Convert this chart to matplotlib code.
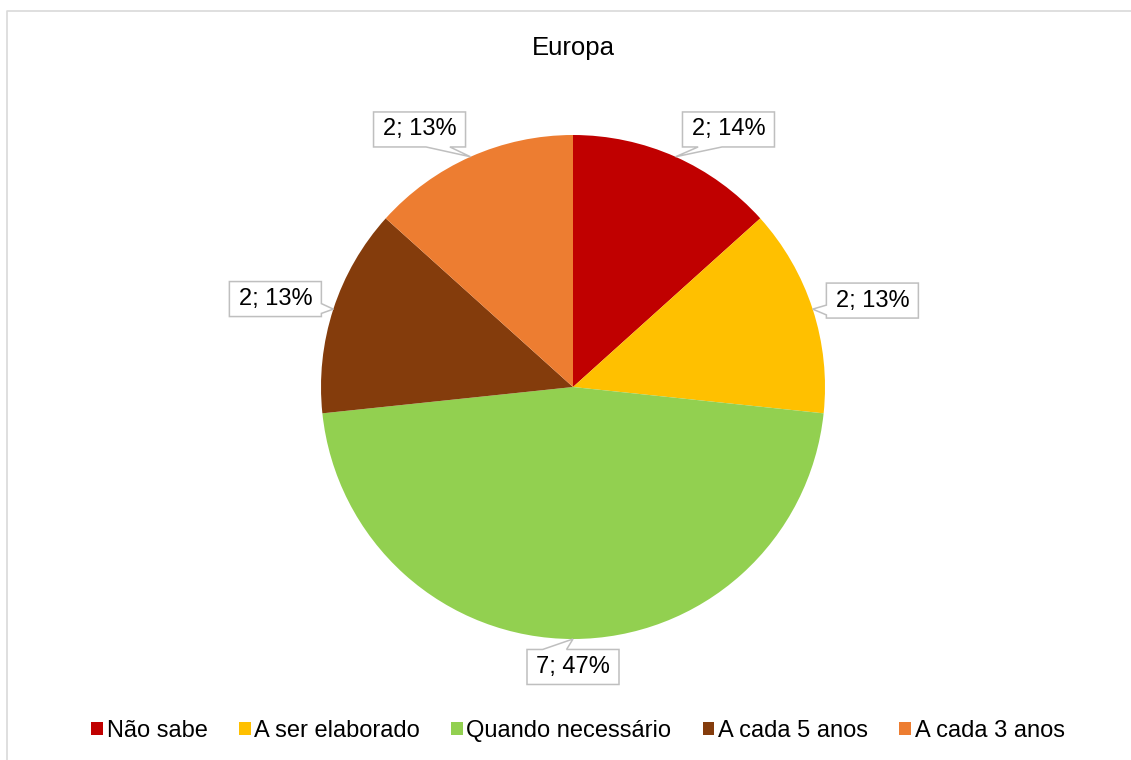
#!/usr/bin/env python3
"""Pie chart: Europa - frequency of plan review."""
import matplotlib
matplotlib.use("Agg")
import numpy as np
import matplotlib.pyplot as plt
from matplotlib.patches import Polygon, Patch

OUT_PNG = "out.png"

CATEGORIES = ["Não sabe", "A ser elaborado", "Quando necessário", "A cada 5 anos", "A cada 3 anos"]
COUNTS = [2, 2, 7, 2, 2]
PERCENT_LABELS = ["14%", "13%", "47%", "13%", "13%"]
COLORS = ["#C00000", "#FFC000", "#92D050", "#843C0C", "#ED7D31"]
TITLE = "Europa"

# label box centres, as fractions of the pie radius (layout only)
LABEL_POS = [(0.617, 1.022), (1.188, 0.343), (0.0, -1.111), (-1.181, 0.349), (-0.609, 1.022)]

W_PX, H_PX = 1131, 760
CX, CY, R = 573, 760 - 387, 252
BOX_W, BOX_H = 92, 35
EDGE = "#BFBFBF"

plt.rcParams["font.family"] = ["Liberation Sans", "DejaVu Sans"]


def callout(cx, cy, w, h, tx, ty):
    x0, x1 = cx - w / 2, cx + w / 2
    y0, y1 = cy - h / 2, cy + h / 2
    if ty < y0 or ty > y1:
        if tx <= cx:
            b1, b2 = x0 + 0.17 * w, x0 + 0.43 * w
        else:
            b1, b2 = x1 - 0.43 * w, x1 - 0.17 * w
        if ty < y0:
            pts = [(x0, y0), (b1, y0), (tx, ty), (b2, y0), (x1, y0), (x1, y1), (x0, y1)]
        else:
            pts = [(x0, y0), (x1, y0), (x1, y1), (b2, y1), (tx, ty), (b1, y1), (x0, y1)]
    else:
        if ty <= cy:
            b1, b2 = y0 + 0.09 * h, y0 + 0.37 * h
        else:
            b1, b2 = y1 - 0.37 * h, y1 - 0.09 * h
        if tx < x0:
            pts = [(x0, y0), (x1, y0), (x1, y1), (x0, y1), (x0, b2), (tx, ty), (x0, b1)]
        else:
            pts = [(x0, y0), (x1, y0), (x1, b1), (tx, ty), (x1, b2), (x1, y1), (x0, y1)]
    return pts


def main():
    fig = plt.figure(figsize=(W_PX / 100, H_PX / 100), dpi=100, facecolor="white")
    ax = fig.add_axes([0, 0, 1, 1])

    wedges, _ = ax.pie(COUNTS, colors=COLORS, startangle=90, counterclock=False,
                       center=(CX, CY), radius=R, wedgeprops=dict(linewidth=0))
    ax.set_xlim(0, W_PX)
    ax.set_ylim(0, H_PX)
    ax.set_aspect("auto")
    ax.set_axis_off()
    ax.set_frame_on(False)

    # outer chart frame: only the left and top edges fall inside the image
    ax.plot([7, 7, W_PX + 20], [-20, H_PX - 11, H_PX - 11], color="#D9D9D9",
            linewidth=1.2, clip_on=False)

    for wdg, n, pct, (fx, fy) in zip(wedges, COUNTS, PERCENT_LABELS, LABEL_POS):
        mid = np.deg2rad((wdg.theta1 + wdg.theta2) / 2)
        tx, ty = CX + R * np.cos(mid), CY + R * np.sin(mid)
        bx, by = CX + R * fx, CY + R * fy
        ax.add_patch(Polygon(callout(bx, by, BOX_W, BOX_H, tx, ty), closed=True,
                             facecolor="white", edgecolor=EDGE, linewidth=1.1, zorder=5))
        ax.text(bx, by, f"{n}; {pct}", ha="center", va="center", fontsize=17, zorder=6)

    ax.text(CX, 760 - 48, TITLE, ha="center", va="center", fontsize=18.5)

    handles = [Patch(facecolor=c, edgecolor="none") for c in COLORS]
    fig.legend(handles, CATEGORIES, loc="center", bbox_to_anchor=(578 / W_PX, 1 - 731 / H_PX),
               ncol=5, frameon=False, fontsize=17, handlelength=0.5, handleheight=0.5,
               handletextpad=0.15, columnspacing=1.32, borderaxespad=0)

    fig.savefig(OUT_PNG, dpi=100, facecolor="white")
    print(f"[OK] Saved: {OUT_PNG}")


if __name__ == "__main__":
    main()
